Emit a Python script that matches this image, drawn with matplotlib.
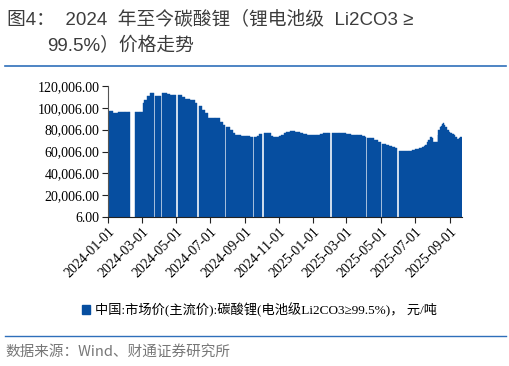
import numpy as np
import pandas as pd
import matplotlib
matplotlib.use('Agg')
import matplotlib.pyplot as plt
import matplotlib.dates as mdates
from matplotlib.lines import Line2D
from matplotlib.patches import Patch
from matplotlib.ticker import FuncFormatter

# price holds from each date to the next one; None = holiday gap
dates = ['2024-01-02', '2024-01-10', '2024-01-19', '2024-01-31', '2024-02-07', '2024-02-10',
         '2024-02-18', '2024-02-27', '2024-03-03', '2024-03-06', '2024-03-10', '2024-03-16',
         '2024-03-20', '2024-03-23', '2024-03-25', '2024-04-01', '2024-04-04', '2024-04-07',
         '2024-04-15', '2024-04-20', '2024-04-27', '2024-05-01', '2024-05-05', '2024-05-12',
         '2024-05-17', '2024-05-26', '2024-06-04', '2024-06-08', '2024-06-11', '2024-06-17',
         '2024-06-22', '2024-06-28', '2024-07-09', '2024-07-18', '2024-07-24', '2024-07-27',
         '2024-07-29', '2024-08-05', '2024-08-10', '2024-08-14', '2024-08-25', '2024-09-04',
         '2024-09-10', '2024-09-15', '2024-09-18', '2024-09-22', '2024-09-26', '2024-10-01',
         '2024-10-05', '2024-10-12', '2024-10-15', '2024-10-18', '2024-10-21', '2024-10-27',
         '2024-11-01', '2024-11-05', '2024-11-09', '2024-11-13', '2024-11-20', '2024-11-29',
         '2024-12-08', '2024-12-14', '2024-12-20', '2025-01-07', '2025-01-13', '2025-01-18',
         '2025-01-27', '2025-01-30', '2025-02-04', '2025-02-15', '2025-03-01', '2025-03-10',
         '2025-03-19', '2025-03-28', '2025-04-03', '2025-04-04', '2025-04-07', '2025-04-12',
         '2025-04-19', '2025-04-26', '2025-05-01', '2025-05-04', '2025-05-10', '2025-05-15',
         '2025-05-21', '2025-05-27', '2025-05-31', '2025-06-02', '2025-06-20', '2025-06-26',
         '2025-07-02', '2025-07-08', '2025-07-14', '2025-07-17', '2025-07-19', '2025-07-22',
         '2025-07-24', '2025-07-28', '2025-07-31', '2025-08-03', '2025-08-09', '2025-08-11',
         '2025-08-12', '2025-08-14', '2025-08-16', '2025-08-18', '2025-08-20', '2025-08-22',
         '2025-08-24', '2025-08-27', '2025-08-30', '2025-09-02', '2025-09-05', '2025-09-08',
         '2025-09-11', '2025-09-14', '2025-09-17', '2025-09-20', '2025-09-23']
prices = [97000, 95000, 96000, 96500, 96500, None,
          96200, 96200, 104200, 107500, 110800, 113900,
          113300, None, 110800, 110800, None, 113300,
          112500, 111700, 111400, None, 111400, 110000,
          108000, 107200, 104700, None, 102000, 98000,
          95000, 91000, 90400, 87300, 84300, None,
          82000, 79700, 77000, 75100, 74500, 74200,
          73000, None, 73500, 74200, 76000, None,
          77200, 77200, 76700, 74200, 73000, 73000,
          74000, 75100, 76800, 78200, 78800, 78200,
          77200, 76000, 75100, 75100, 76000, 77200,
          77200, None, 77200, 77000, 76000, 75500,
          75100, 74500, 73600, None, 72500, 72100,
          70500, 69000, None, 66900, 66000, 65000,
          64000, 62900, None, 60700, 60700, 61200,
          62000, 62800, 63800, 65000, 66000, 68500,
          70500, 73000, 72000, 69000, 69000, 75000,
          79700, 82000, 83400, 85000, 86400, 84500,
          82700, 80000, 78200, 77000, 76000, 74800,
          73600, 71200, 72000, 73000, None]

yticks = [6, 20006, 40006, 60006, 80006, 100006, 120006]
xticks = ['2024-01-01', '2024-03-01', '2024-05-01', '2024-07-01', '2024-09-01', '2024-11-01',
          '2025-01-01', '2025-03-01', '2025-05-01', '2025-07-01', '2025-09-01']

blue = '#064ea0'
serif = ['Liberation Serif', 'Noto Sans CJK SC']
cjk = ['Noto Sans CJK SC', 'DejaVu Sans']
title_font = ['Liberation Sans', 'Noto Sans CJK SC']

x = mdates.date2num(pd.to_datetime(dates))
w = np.diff(x)
y = np.array([np.nan if p is None else p for p in prices[:-1]], dtype=float)

fig = plt.figure(figsize=(5.1, 3.66), dpi=100)
ax = fig.add_axes([108 / 510, 149 / 366, (462 - 108) / 510, 131 / 366])
ax.bar(x[:-1], y, width=w, align='edge', color=blue, edgecolor=blue, linewidth=0.3)

ax.set_ylim(6, 120006)
ax.set_yticks(yticks)
ax.yaxis.set_major_formatter(FuncFormatter(lambda v, p: '{:,.2f}'.format(v)))
ax.set_xlim(mdates.date2num(pd.Timestamp('2024-01-01')), mdates.date2num(pd.Timestamp('2025-09-23')))
ax.set_xticks(mdates.date2num(pd.to_datetime(xticks)))
ax.set_xticklabels(xticks, rotation=45, ha='right', rotation_mode='anchor')
ax.tick_params(axis='both', labelsize=10, length=4, width=0.8, color='#222222', pad=2)
for lab in ax.get_xticklabels() + ax.get_yticklabels():
    lab.set_family(serif)
for s in ['top', 'right']:
    ax.spines[s].set_visible(False)
ax.spines['left'].set_color('#555555')
ax.spines['bottom'].set_color('#222222')

# title
tc = '#3c3c3c'
fig.text(7 / 510, 1 - 19 / 366, '图4：  2024  年至今碳酸锂（锂电池级  Li2CO3 ≥', family=title_font,
         fontsize=13.5, color=tc, va='center')
fig.text(47 / 510, 1 - 46 / 366, '99.5%）价格走势', family=title_font, fontsize=13.5, color=tc,
         va='center')
fig.add_artist(Line2D([5 / 510, 506 / 510], [1 - 65.5 / 366] * 2, color='#2f6fba', lw=1.2))

# legend
h = Patch(facecolor=blue, edgecolor=blue)
leg = fig.legend([h], ['中国:市场价(主流价):碳酸锂(电池级Li2CO3≥99.5%)， 元/吨'],
                 loc='center left', bbox_to_anchor=(70 / 510, 1 - 310 / 366), frameon=False,
                 handlelength=0.6, handleheight=0.6, handletextpad=0.4,
                 prop={'family': serif, 'size': 9.5})

fig.add_artist(Line2D([5 / 510, 506 / 510], [1 - 336 / 366] * 2, color='#2f6fba', lw=1.0))
fig.text(5 / 510, 1 - 352 / 366, '数据来源：Wind、财通证券研究所', family=cjk, fontsize=10.5,
         color='#777777', va='center')

fig.savefig('out.png', dpi=100)
